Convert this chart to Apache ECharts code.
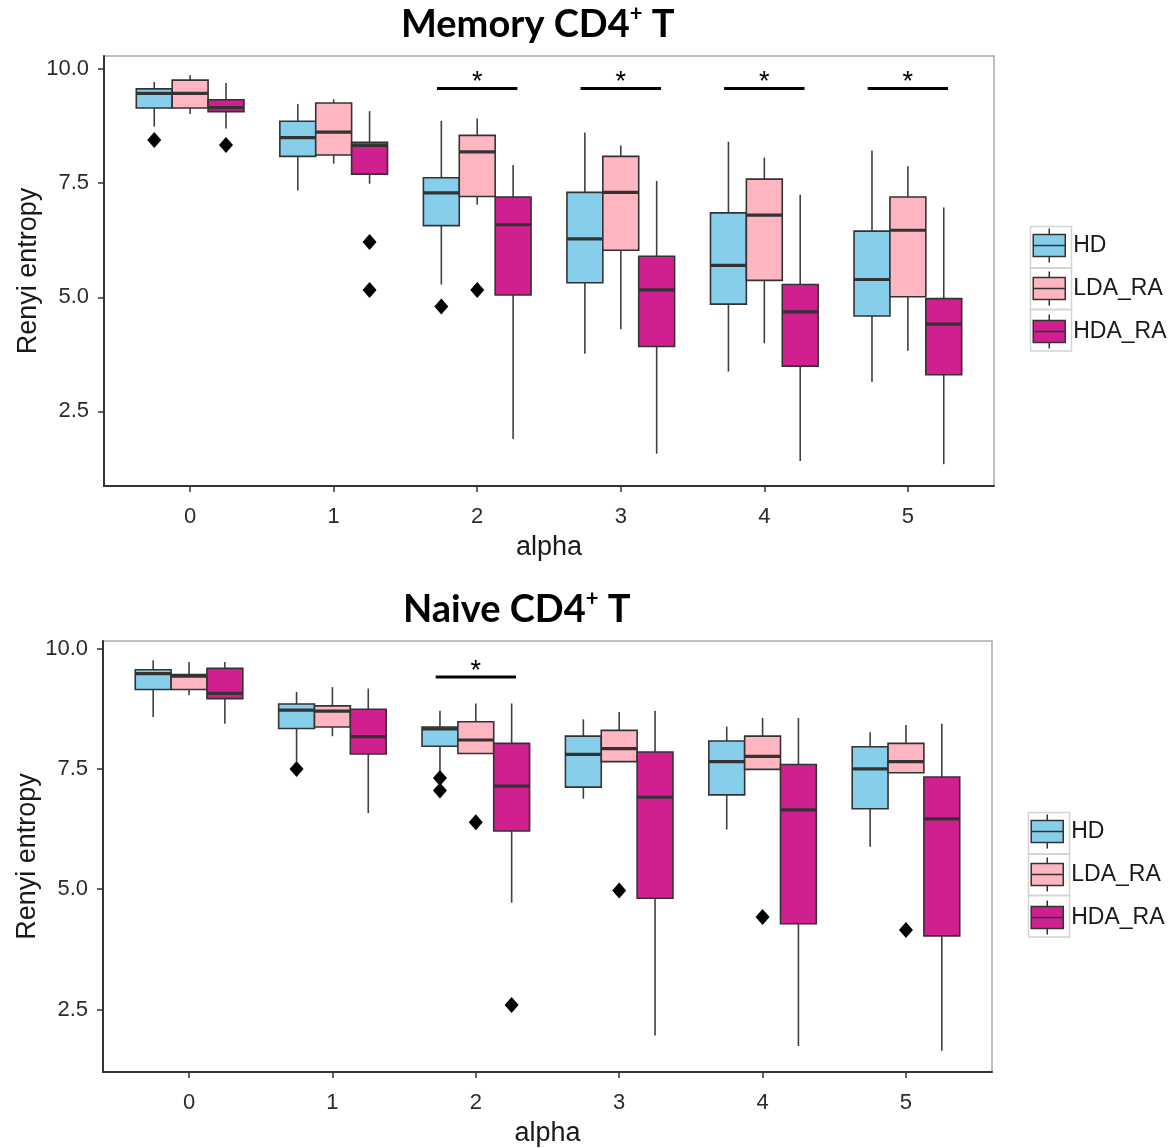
<!DOCTYPE html>
<html>
<head>
<meta charset="utf-8">
<title>Renyi entropy</title>
<script src="https://cdn.jsdelivr.net/npm/echarts@6/dist/echarts.min.js"></script>
<style>
  html, body { margin: 0; padding: 0; background: #fff; }
  #chart { width: 1174px; height: 1148px; }
</style>
</head>
<body>
<div id="chart"></div>
<script>
// categories / groups
var alphaLabels = ['0', '1', '2', '3', '4', '5'];
var groupNames = ['HD', 'LDA_RA', 'HDA_RA'];
var groupColors = ['#87CEEB', '#FFB6C1', '#D02090'];
var yTicks = [2.5, 5.0, 7.5, 10.0];

// boxes: [lower whisker, Q1, median, Q3, upper whisker] for alpha 0..5
var memoryHD  = [[8.74, 9.15, 9.47, 9.57, 9.72], [7.34, 8.09, 8.50, 8.86, 9.24], [5.28, 6.57, 7.29, 7.62, 8.87], [3.76, 5.32, 6.28, 7.30, 8.61], [3.37, 4.85, 5.70, 6.85, 8.41], [3.14, 4.59, 5.39, 6.45, 8.22]];
var memoryLDA = [[9.02, 9.15, 9.47, 9.76, 9.87], [7.93, 8.12, 8.62, 9.26, 9.34], [7.03, 7.21, 8.19, 8.55, 8.92], [4.30, 6.03, 7.30, 8.09, 8.33], [3.99, 5.37, 6.80, 7.59, 8.06], [3.83, 5.01, 6.47, 7.20, 7.87]];
var memoryHDA = [[8.70, 9.07, 9.16, 9.33, 9.70], [7.49, 7.70, 8.33, 8.40, 9.08], [1.89, 5.05, 6.59, 7.20, 7.90], [1.57, 3.92, 5.16, 5.90, 7.55], [1.41, 3.49, 4.68, 5.28, 7.25], [1.34, 3.30, 4.41, 4.97, 6.97]];

var naiveHD  = [[8.58, 9.15, 9.48, 9.56, 9.76], [7.66, 8.34, 8.72, 8.85, 9.10], [7.38, 7.97, 8.33, 8.37, 8.71], [6.88, 7.12, 7.80, 8.18, 8.53], [6.24, 6.96, 7.65, 8.08, 8.38], [5.88, 6.67, 7.50, 7.96, 8.26]];
var naiveLDA = [[9.03, 9.15, 9.43, 9.46, 9.72], [8.18, 8.37, 8.70, 8.81, 9.20], [7.82, 7.82, 8.10, 8.48, 8.86], [7.65, 7.65, 7.92, 8.30, 8.68], [7.49, 7.49, 7.76, 8.18, 8.56], [7.42, 7.42, 7.65, 8.03, 8.41]];
var naiveHDA = [[8.44, 8.96, 9.07, 9.59, 9.72], [6.58, 7.81, 8.17, 8.74, 9.17], [4.72, 6.21, 7.14, 8.03, 8.86], [1.96, 4.81, 6.91, 7.85, 8.71], [1.74, 4.28, 6.65, 7.59, 8.56], [1.64, 4.03, 6.46, 7.33, 8.44]];

// outliers: [alpha, value]
var memoryOutHD  = [[0, 8.45], [2, 4.80]];
var memoryOutLDA = [[2, 5.16]];
var memoryOutHDA = [[0, 8.34], [1, 6.21], [1, 5.16]];
var naiveOutHD  = [[1, 7.50], [2, 7.31], [2, 7.05]];
var naiveOutLDA = [[2, 6.39], [3, 4.97], [4, 4.42], [5, 4.15]];
var naiveOutHDA = [[2, 2.59]];

// significance bars (alpha positions) and their height
var memorySig = [2, 3, 4, 5];
var memorySigY = 9.58;
var naiveSig = [2];
var naiveSigY = 9.41;

var FONT = '"Liberation Sans", Arial, sans-serif';
var dodge = [-0.25, 0, 0.25];
var halfBox = 0.125;
var keyIcon = 'path://M16,0V6M0,6H32V28H0ZM0,17H32M16,28V34';

function boxRender(offset, color) {
  return function (params, api) {
    var x = api.value(0) + offset;
    var cx = api.coord([x, 0])[0];
    var l = api.coord([x - halfBox, 0])[0];
    var r = api.coord([x + halfBox, 0])[0];
    var yLo = api.coord([x, api.value(1)])[1];
    var yQ1 = api.coord([x, api.value(2)])[1];
    var yMed = api.coord([x, api.value(3)])[1];
    var yQ3 = api.coord([x, api.value(4)])[1];
    var yHi = api.coord([x, api.value(5)])[1];
    return {
      type: 'group',
      children: [
        { type: 'line', shape: { x1: cx, y1: yHi, x2: cx, y2: yQ3 }, style: { stroke: '#404040', lineWidth: 1.6 } },
        { type: 'line', shape: { x1: cx, y1: yQ1, x2: cx, y2: yLo }, style: { stroke: '#404040', lineWidth: 1.6 } },
        { type: 'rect', shape: { x: l, y: yQ3, width: r - l, height: yQ1 - yQ3 }, style: { fill: color, stroke: '#333', lineWidth: 1.6 } },
        { type: 'line', shape: { x1: l, y1: yMed, x2: r, y2: yMed }, style: { stroke: '#333', lineWidth: 3.2 } }
      ]
    };
  };
}

function sigRender(params, api) {
  var a = api.value(0);
  var p1 = api.coord([a - 0.28, api.value(1)]);
  var p2 = api.coord([a + 0.28, api.value(1)]);
  return {
    type: 'group',
    children: [
      { type: 'line', shape: { x1: p1[0], y1: p1[1], x2: p2[0], y2: p2[1] }, style: { stroke: '#000', lineWidth: 3 } },
      { type: 'text', x: (p1[0] + p2[0]) / 2, y: p1[1] + 8,
        style: { text: '*', fill: '#000', font: '27px ' + FONT, align: 'center', verticalAlign: 'bottom' } }
    ]
  };
}

function panelSeries(idx, boxes, outs, sig, sigY) {
  var list = [];
  groupNames.forEach(function (name, g) {
    list.push({
      name: name,
      type: 'custom',
      xAxisIndex: idx,
      yAxisIndex: idx,
      renderItem: boxRender(dodge[g], groupColors[g]),
      encode: { x: 0, y: [1, 2, 3, 4, 5] },
      itemStyle: { color: groupColors[g] },
      data: boxes[g].map(function (b, i) { return [i].concat(b); }),
      z: 2
    });
  });
  groupNames.forEach(function (name, g) {
    list.push({
      name: name,
      type: 'scatter',
      xAxisIndex: idx,
      yAxisIndex: idx,
      symbol: 'diamond',
      symbolSize: [14, 16],
      itemStyle: { color: '#000', opacity: 1 },
      data: outs[g].map(function (p) { return [p[0] + dodge[g], p[1]]; }),
      z: 3,
      silent: true
    });
  });
  list.push({
    type: 'custom',
    xAxisIndex: idx,
    yAxisIndex: idx,
    renderItem: sigRender,
    encode: { x: 0, y: 1 },
    data: sig.map(function (a) { return [a, sigY]; }),
    silent: true,
    z: 4
  });
  return list;
}

function xAxisFor(idx) {
  return {
    type: 'value', gridIndex: idx, min: -0.6, max: 5.6,
    name: 'alpha', nameLocation: 'middle', nameGap: 48,
    nameTextStyle: { fontFamily: FONT, fontSize: 27, color: '#1a1a1a' },
    splitLine: { show: false },
    axisLine: { show: true, onZero: false, lineStyle: { color: '#333', width: 2 } },
    axisTick: { show: true, length: 6, customValues: [0, 1, 2, 3, 4, 5], lineStyle: { color: '#333', width: 1.5 } },
    axisLabel: {
      customValues: [0, 1, 2, 3, 4, 5], margin: 20,
      fontFamily: FONT, fontSize: 22, color: '#2b2b2b',
      formatter: function (v) { return alphaLabels[Math.round(v)]; }
    }
  };
}

function yAxisFor(idx, min, max) {
  return {
    type: 'value', gridIndex: idx, min: min, max: max,
    name: 'Renyi entropy', nameLocation: 'middle', nameGap: 62, nameMoveOverlap: false,
    nameTextStyle: { fontFamily: FONT, fontSize: 27, color: '#1a1a1a' },
    splitLine: { show: false },
    axisLine: { show: true, onZero: false, lineStyle: { color: '#333', width: 2 } },
    axisTick: { show: true, length: 6, customValues: yTicks, lineStyle: { color: '#333', width: 1.5 } },
    axisLabel: {
      customValues: yTicks, margin: 15,
      fontFamily: FONT, fontSize: 22, color: '#2b2b2b',
      formatter: function (v) { return v.toFixed(1); }
    }
  };
}

function legendFor(left, top) {
  return {
    orient: 'vertical', left: left, top: top, padding: 0,
    itemWidth: 32, itemHeight: 34, itemGap: 7.5,
    textStyle: { fontFamily: FONT, fontSize: 23, color: '#1a1a1a', padding: [0, 0, 0, 3] },
    data: groupNames.map(function (n, g) {
      return { name: n, icon: keyIcon, itemStyle: { color: groupColors[g], borderColor: '#333', borderWidth: 1.5 } };
    })
  };
}

function keyFrames(x, y) {
  return [0, 1, 2].map(function (k) {
    return {
      type: 'rect', left: x, top: y + k * 41.5,
      shape: { width: 41, height: 41.5 },
      style: { fill: 'none', stroke: '#d4d4d4', lineWidth: 1.5 },
      z: -1
    };
  });
}

function titleFor(main, left, top) {
  return {
    text: '{b|' + main + '}{s|+}{b| T}',
    left: left, top: top, padding: 0,
    textStyle: {
      rich: {
        b: { fontFamily: 'Lato, "Open Sans", sans-serif', fontWeight: 'bold', fontSize: 38, color: '#000', lineHeight: 44 },
        s: { fontFamily: 'Lato, "Open Sans", sans-serif', fontWeight: 'bold', fontSize: 22, color: '#000', lineHeight: 44, verticalAlign: 'top' }
      }
    }
  };
}

var chart = echarts.init(document.getElementById('chart'), null, { renderer: 'canvas' });

var option = {
  backgroundColor: '#fff',
  animation: false,
  title: [titleFor('Memory CD4', 401, 3), titleFor('Naive CD4', 403, 588)],
  grid: [
    { left: 104, top: 56, width: 890, height: 430, show: true, borderColor: '#aaa', borderWidth: 1.5, backgroundColor: '#fff' },
    { left: 103, top: 641, width: 889, height: 431, show: true, borderColor: '#aaa', borderWidth: 1.5, backgroundColor: '#fff' }
  ],
  xAxis: [xAxisFor(0), xAxisFor(1)],
  yAxis: [yAxisFor(0, 0.862, 10.29), yAxisFor(1, 1.2, 10.158)],
  legend: [legendFor(1032.5, 227.75), legendFor(1030.5, 813.75)],
  graphic: keyFrames(1028, 224).concat(keyFrames(1026, 810)),
  series: panelSeries(0, [memoryHD, memoryLDA, memoryHDA], [memoryOutHD, memoryOutLDA, memoryOutHDA], memorySig, memorySigY)
    .concat(panelSeries(1, [naiveHD, naiveLDA, naiveHDA], [naiveOutHD, naiveOutLDA, naiveOutHDA], naiveSig, naiveSigY))
};

chart.setOption(option);
</script>
</body>
</html>
